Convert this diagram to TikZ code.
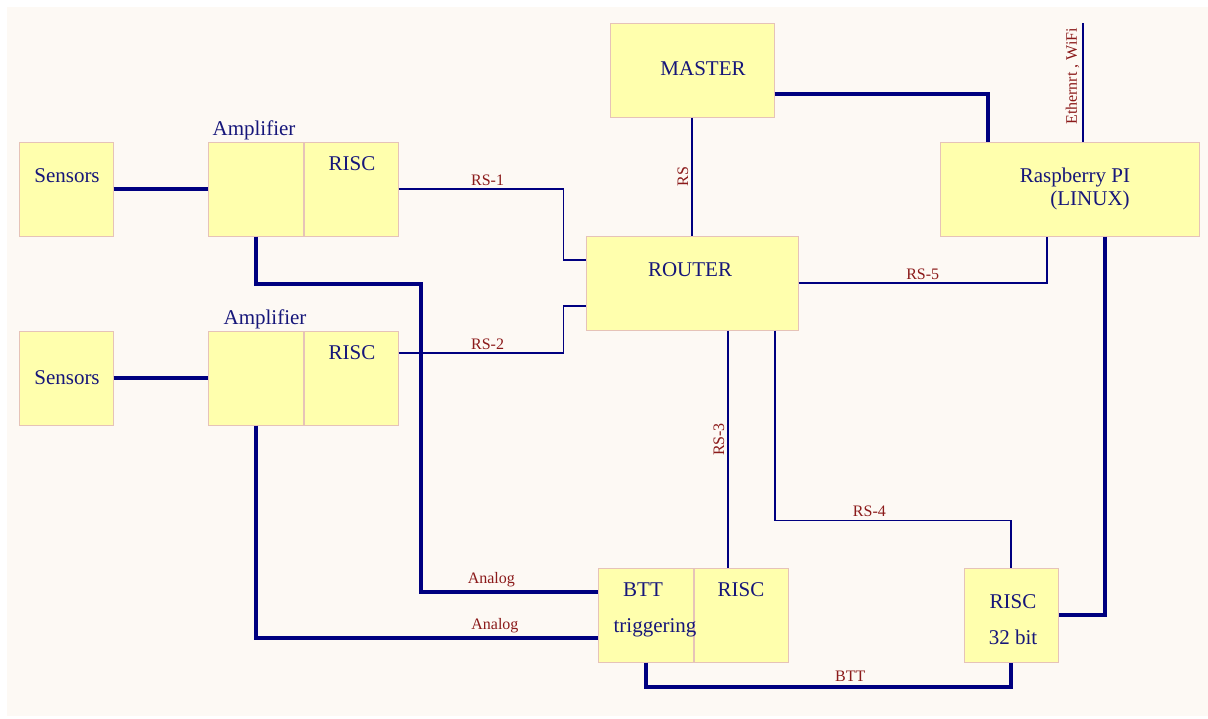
\documentclass[tikz,border=0pt]{standalone}
\usepackage{fontspec}
\setmainfont{Liberation Serif}
\usepackage{xcolor}
\usepackage{tikz}
\usetikzlibrary{positioning}
\definecolor{paper}{HTML}{FDF9F4}
\definecolor{boxfill}{HTML}{FFFFAD}
\definecolor{boxline}{HTML}{E6C3B8}
\definecolor{wirecol}{HTML}{000080}
\definecolor{txtcol}{HTML}{16167A}
\definecolor{lblcol}{HTML}{8B1A1A}
\tikzset{
  unit/.style={rectangle, draw=boxline, fill=boxfill, line width=0.5pt,
               inner sep=0pt, minimum width=47pt, minimum height=47pt},
  txt/.style={text=txtcol, inner sep=0pt, font=\fontsize{10.5}{12}\selectfont},
  lbl/.style={text=lblcol, inner sep=1.5pt, font=\fontsize{8}{9}\selectfont},
  wire/.style={draw=wirecol, line width=0.75pt},
  bus/.style={draw=wirecol, line width=2pt}
}
\begin{document}
\begin{tikzpicture}[x=0.5pt, y=-0.5pt]

  \useasboundingbox (0,0) rectangle (1208,718);
  \fill[white] (0,0) rectangle (1208,718);
  \fill[paper] (7,7) rectangle (1208,716);

  % input side
  \node[unit] (sens1) at (66,189) {};
  \node[unit, minimum width=47.5pt] (amp1) at (255.5,189) {};
  \node[unit, right=0pt of amp1] (risc1) {};
  \node[unit] (sens2) at (66,378) {};
  \node[unit, minimum width=47.5pt] (amp2) at (255.5,378) {};
  \node[unit, right=0pt of amp2] (risc2) {};

  % control side
  \node[unit, minimum width=82pt] (master) at (692,70) {};
  \node[unit, minimum width=106pt] (router) at (692,283) {};
  \node[unit, minimum width=129.5pt] (rpi) at (1069.5,189) {};
  \node[unit, minimum width=47.5pt] (btt) at (645.5,615) {};
  \node[unit, right=0pt of btt] (risc3) {};
  \node[unit] (risc32) at (1011,615) {};

  % texts
  \node[txt] (t-sens1) at (67,176) {Sensors};
  \node[txt] (t-sens2) at (67,378) {Sensors};
  \node[txt] (t-amp1) at (254,130) {Amplifier};
  \node[txt] (t-amp2) at (265,319) {Amplifier};
  \node[txt] (t-risc1) at (352,164) {RISC};
  \node[txt] (t-risc2) at (352,353) {RISC};
  \node[txt] (t-master) at (703,69) {MASTER};
  \node[txt] (t-router) at (690,270) {ROUTER};
  \node[txt] (t-rpi) at (1075,177) {Raspberry PI};
  \node[txt] (t-linux) at (1090,200) {(LINUX)};
  \node[txt] (t-btt) at (643,590) {BTT};
  \node[txt] (t-trig) at (655,628) {triggering};
  \node[txt] (t-risc3) at (741,590) {RISC};
  \node[txt] (t-risc32) at (1013,602) {RISC};
  \node[txt] (t-bit) at (1013,637) {32 bit};

  % thick lines
  \draw[bus] (sens1) -- (amp1);
  \draw[bus] (sens2) -- (amp2);
  \draw[bus] (amp1.south) -- ++(0,47) -- ++(165,0)
    |- node[lbl, above, pos=0.7] {Analog} ([yshift=11.5pt]btt.west);
  \draw[bus] (amp2.south)
    |- node[lbl, above, pos=0.85] {Analog} ([yshift=-11.5pt]btt.west);
  \draw[bus] ([yshift=-12pt]master.east) -| ([xshift=-40.75pt]rpi.north);
  \draw[bus] ([xshift=17.75pt]rpi.south) |- (risc32.east);
  \draw[bus] (btt.south) -- ++(0,24)
    -| node[lbl, above, pos=0.28] {BTT} (risc32.south);

  % RS lines
  \draw[wire] (risc1.east) -- node[lbl, above, pos=0.54] {RS-1} ++(165,0)
    |- ([yshift=11.5pt]router.west);
  \draw[wire] ([yshift=12.5pt]risc2.east) -- node[lbl, above, pos=0.54] {RS-2} ++(165,0)
    |- ([yshift=-11.5pt]router.west);
  \draw[wire] (master.south) -- node[lbl, rotate=90, anchor=south] {RS} (router.north);
  \draw[wire] (router.east) -| node[lbl, above, pos=0.25] {RS-5} ([xshift=-11.25pt]rpi.south);
  \draw[wire] ([xshift=18pt]router.south)
    -- node[lbl, rotate=90, anchor=south, pos=0.46] {RS-3} ([xshift=18pt]router.south |- risc3.north);
  \draw[wire] ([xshift=41.5pt]router.south) -- ++(0,190)
    -| node[lbl, above, pos=0.2] {RS-4} (risc32.north);

  \coordinate (net) at (1083,23);
  \draw[wire] (net) -- node[lbl, rotate=90, anchor=south, pos=0.45] {Ethernrt , WiFi} (net |- rpi.north);

\end{tikzpicture}
\end{document}
